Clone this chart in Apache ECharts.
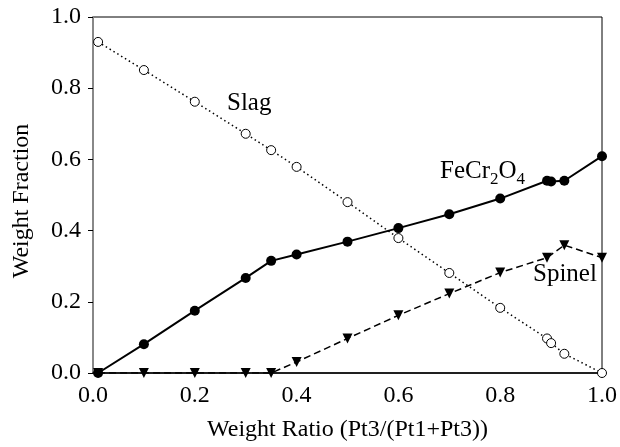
<!DOCTYPE html>
<html>
<head>
<meta charset="utf-8">
<script src="https://cdn.jsdelivr.net/npm/echarts@6/dist/echarts.min.js"></script>
<style>html,body{margin:0;padding:0;background:#fff;}#c{width:620px;height:447px;}</style>
</head>
<body>
<div id="c"></div>
<script>
const slagX = [0.01, 0.1, 0.2, 0.3, 0.35, 0.4, 0.5, 0.6, 0.7, 0.8, 0.892, 0.9, 0.926, 1.0];
const slagY = [0.93, 0.851, 0.762, 0.672, 0.626, 0.579, 0.48, 0.379, 0.281, 0.183, 0.097, 0.084, 0.054, 0.0];
const fecrX = [0.01, 0.1, 0.2, 0.3, 0.35, 0.4, 0.5, 0.6, 0.7, 0.8, 0.892, 0.9, 0.926, 1.0];
const fecrY = [0.0, 0.081, 0.175, 0.267, 0.315, 0.333, 0.369, 0.407, 0.446, 0.49, 0.540, 0.538, 0.540, 0.609];
const spinelX = [0.01, 0.1, 0.2, 0.3, 0.35, 0.4, 0.5, 0.6, 0.7, 0.8, 0.892, 0.926, 1.0];
const spinelY = [0.0, 0.0, 0.0, 0.0, 0.0, 0.031, 0.097, 0.162, 0.223, 0.282, 0.324, 0.359, 0.324];
const xTicks = [0.0, 0.2, 0.4, 0.6, 0.8, 1.0];
const yTicks = [0.0, 0.2, 0.4, 0.6, 0.8, 1.0];

const zip = (xs, ys) => xs.map((x, i) => [x, ys[i]]);
const font = 'Liberation Serif';
const chart = echarts.init(document.getElementById('c'));
chart.setOption({
  backgroundColor: '#fff',
  animation: false,
  grid: { left: 93, right: 16, top: 17, bottom: 74, show: true, borderColor: '#000', borderWidth: 1 },
  xAxis: {
    type: 'value', min: xTicks[0], max: xTicks[xTicks.length - 1], interval: 0.2,
    name: 'Weight Ratio (Pt3/(Pt1+Pt3))', nameLocation: 'middle', nameGap: 45,
    nameTextStyle: { fontFamily: font, fontSize: 24, color: '#000' },
    axisLine: { lineStyle: { color: '#000', width: 1.5 } },
    axisTick: { show: false },
    splitLine: { show: false },
    axisLabel: { fontFamily: font, fontSize: 24, color: '#000', margin: 11, formatter: v => v.toFixed(1) }
  },
  yAxis: {
    type: 'value', min: yTicks[0], max: yTicks[yTicks.length - 1], interval: 0.2,
    name: 'Weight Fraction', nameLocation: 'middle', nameGap: 59,
    nameTextStyle: { fontFamily: font, fontSize: 24, color: '#000', padding: [0, 12, 0, 0] },
    axisLine: { lineStyle: { color: '#888', width: 2 } },
    axisTick: { show: true, length: 5, lineStyle: { color: '#000' } },
    splitLine: { show: false },
    axisLabel: { fontFamily: font, fontSize: 24, color: '#000', margin: 12, formatter: v => v.toFixed(1) }
  },
  series: [
    {
      type: 'line', data: zip(slagX, slagY), symbol: 'circle', symbolSize: 9,
      lineStyle: { color: '#000', width: 1.5, type: [1.5, 3] },
      itemStyle: { color: '#fff', borderColor: '#000', borderWidth: 1 }, z: 3
    },
    {
      type: 'line', data: zip(spinelX, spinelY), symbol: 'triangle', symbolRotate: 180, symbolSize: 10,
      lineStyle: { color: '#000', width: 1.5, type: [7, 4] },
      itemStyle: { color: '#000' }, z: 4
    },
    {
      type: 'line', data: zip(fecrX, fecrY), symbol: 'circle', symbolSize: 10,
      lineStyle: { color: '#000', width: 2 },
      itemStyle: { color: '#000' }, z: 5
    }
  ],
  graphic: [
    { type: 'text', left: 227, top: 91, style: { text: 'Slag', fontFamily: font, fontSize: 25, fill: '#000' } },
    { type: 'text', left: 533, top: 262, style: { text: 'Spinel', fontFamily: font, fontSize: 25, fill: '#000' } },
    { type: 'text', left: 440, top: 159, style: {
        text: 'FeCr{s|2}O{s|4}', fontFamily: font, fontSize: 25, fill: '#000',
        rich: { s: { fontFamily: font, fontSize: 17, fill: '#000', verticalAlign: 'bottom', padding: [16, 0, 0, 0] } }
      } }
  ]
});
</script>
</body>
</html>
